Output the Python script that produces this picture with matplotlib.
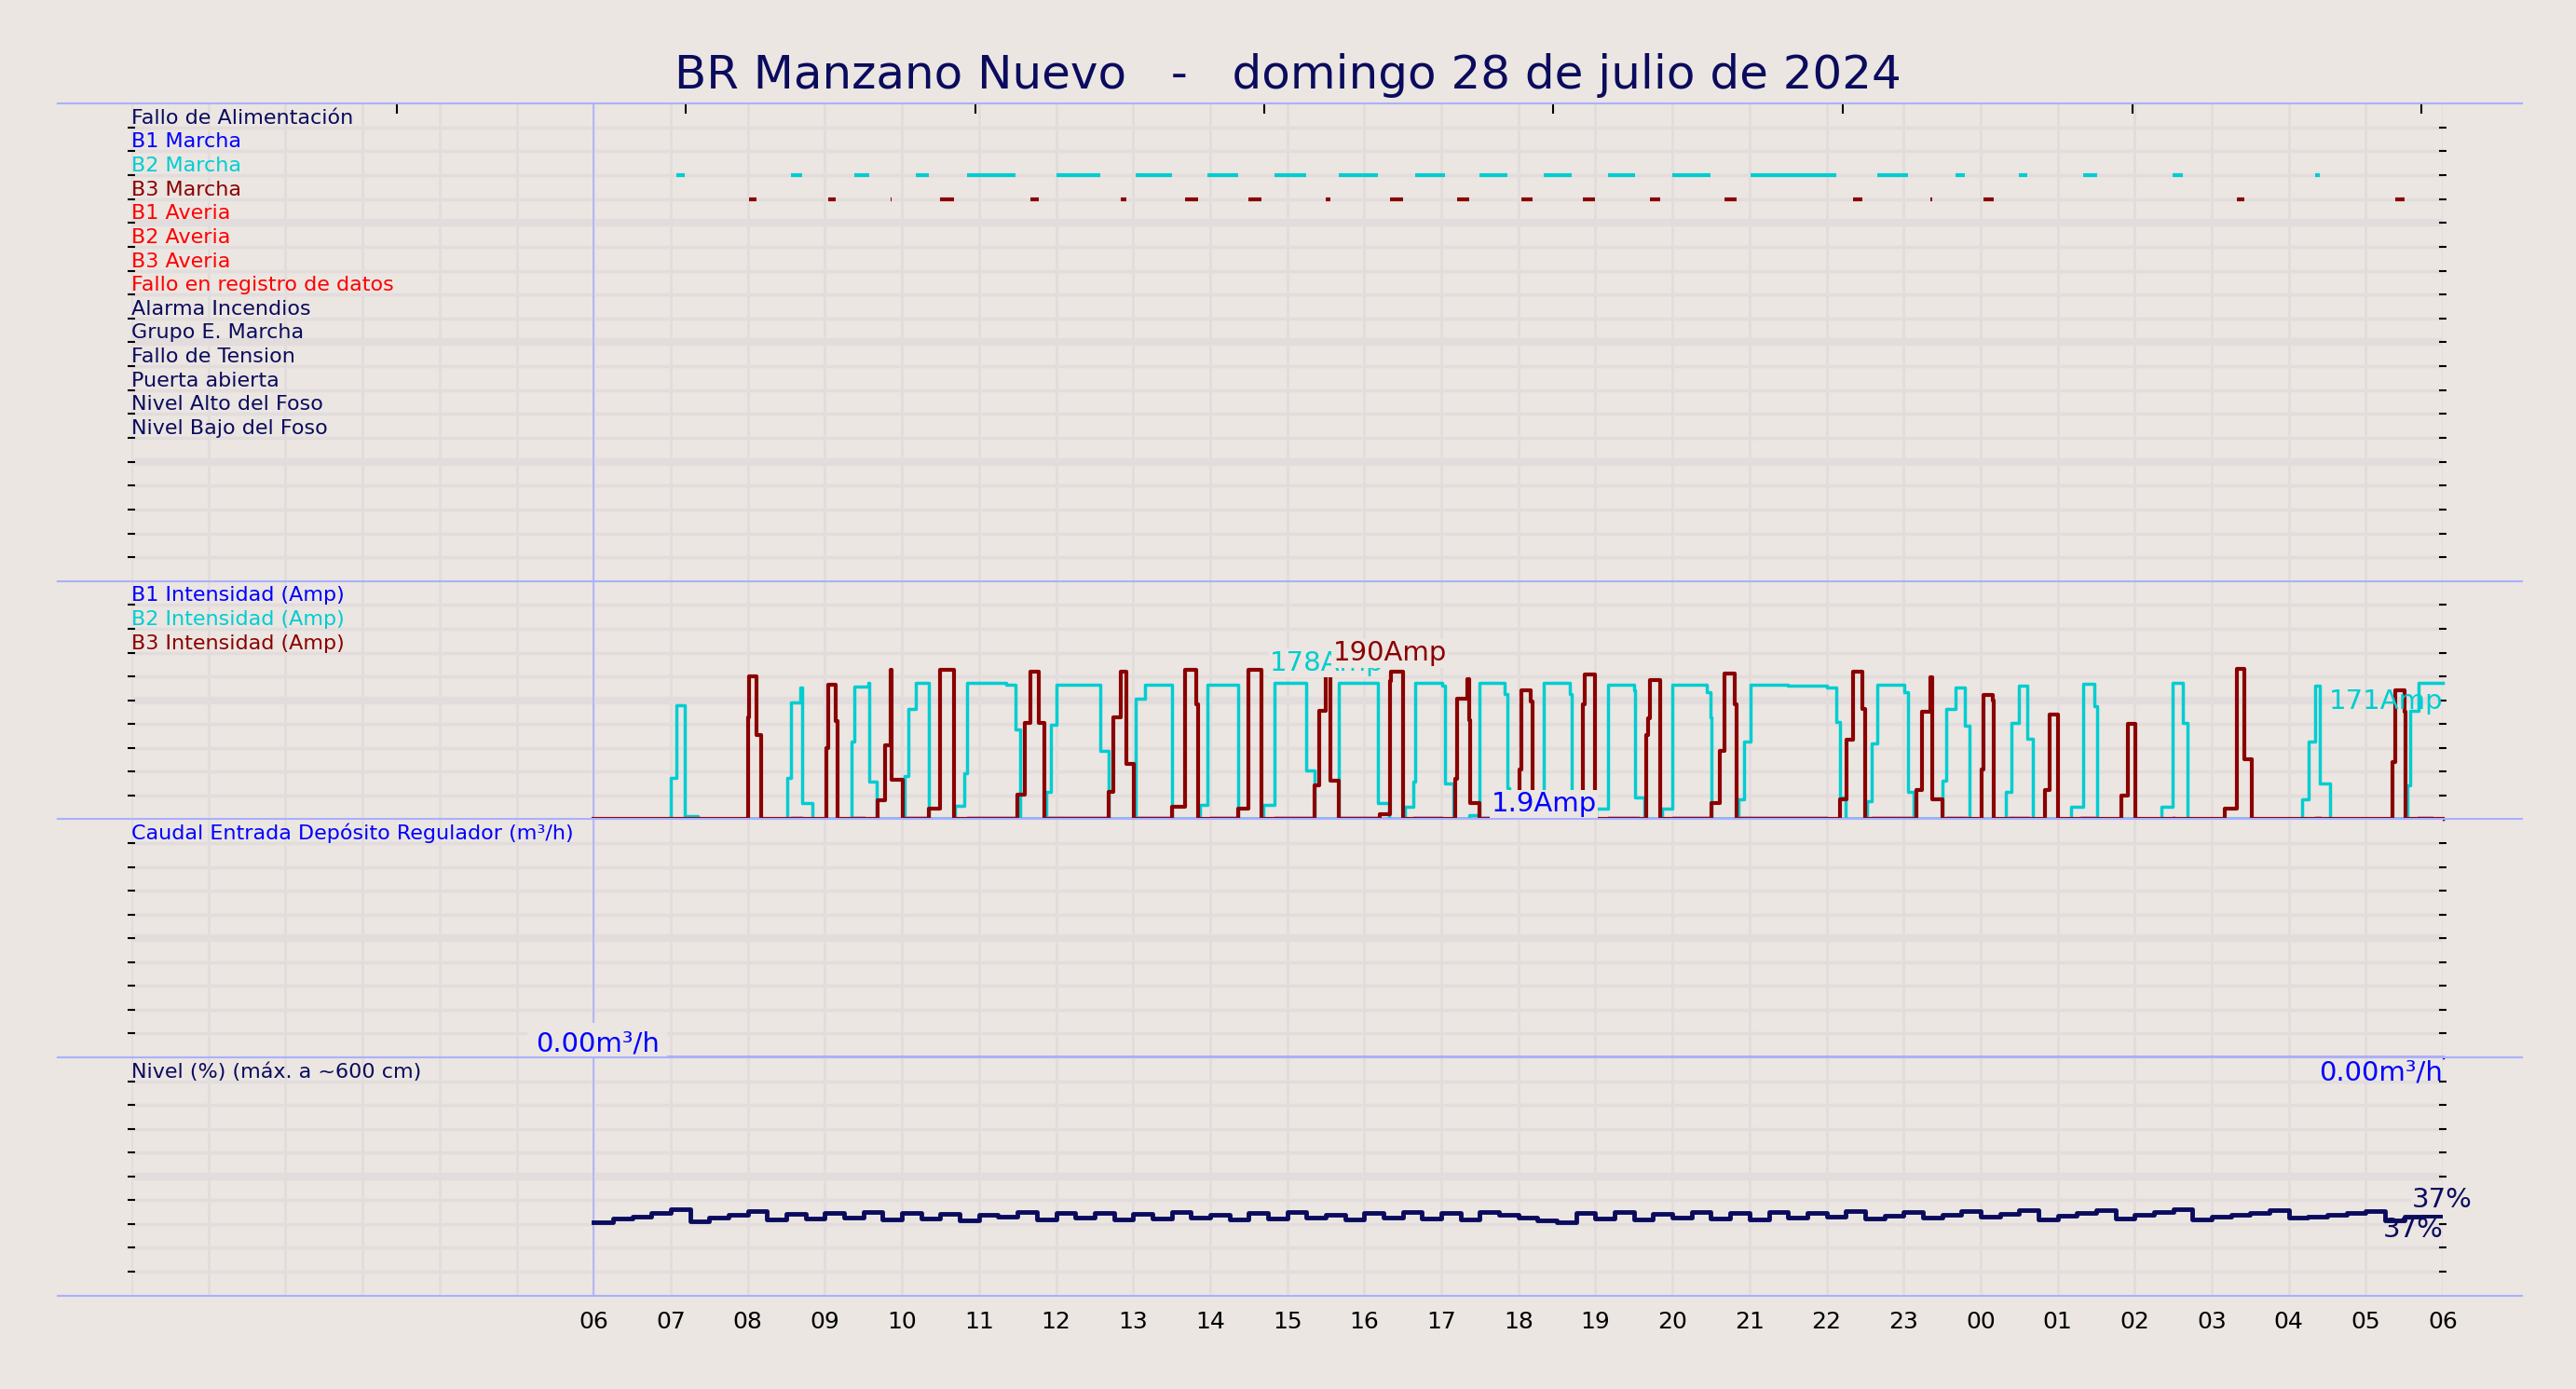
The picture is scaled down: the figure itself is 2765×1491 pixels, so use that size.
import matplotlib
matplotlib.use("Agg")
import matplotlib.pyplot as plt
from matplotlib.lines import Line2D
import numpy as np

BG = '#ebe6e1'
GRID = '#e2dcdc'
NAVY = '#0b0b5e'
CYAN = '#00cdd1'
DRED = '#8b0000'
BLUE = '#0000ff'
SEP = '#aab0ff'

title = 'BR Manzano Nuevo   -   domingo 28 de julio de 2024'

signal_labels = ['Fallo de Alimentación', 'B1 Marcha', 'B2 Marcha', 'B3 Marcha', 'B1 Averia',
                 'B2 Averia', 'B3 Averia', 'Fallo en registro de datos', 'Alarma Incendios',
                 'Grupo E. Marcha', 'Fallo de Tension', 'Puerta abierta', 'Nivel Alto del Foso',
                 'Nivel Bajo del Foso']
signal_colors = [NAVY, BLUE, CYAN, DRED, 'red', 'red', 'red', 'red', NAVY, NAVY, NAVY, NAVY, NAVY, NAVY]

hour_labels = ['06', '07', '08', '09', '10', '11', '12', '13', '14', '15', '16', '17', '18',
               '19', '20', '21', '22', '23', '00', '01', '02', '03', '04', '05', '06']

# B2 intensity (Amp), step series (hours since 06:00, value)
b2_t = [0, 1.00, 1.07, 1.18, 1.35, 2.51, 2.56, 2.68, 2.70, 2.84, 3.34, 3.38, 3.56, 3.58, 3.67,
        4.04, 4.08, 4.18, 4.35, 4.69, 4.81, 4.85, 5.35, 5.47, 5.54, 5.87, 5.93, 6.00, 6.58, 6.68,
        7.03, 7.16, 7.50, 7.87, 7.97, 8.36, 8.69, 8.83, 9.25, 9.35, 9.67, 10.18, 10.32,
        10.53, 10.64, 10.66, 11.01, 11.05, 11.16, 11.36, 11.50, 11.82, 11.86, 11.88,
        12.33, 12.67, 12.69, 13.01, 13.17, 13.50, 13.52, 13.64, 13.86, 14.00, 14.44, 14.49, 14.51,
        14.86, 14.93, 15.02, 15.50, 16.01, 16.13, 16.18, 16.25, 16.52, 16.59, 16.66, 17.01, 17.06, 17.13,
        17.50, 17.55, 17.67, 17.80, 17.85, 18.33, 18.40, 18.50, 18.61, 18.68, 19.17, 19.33, 19.48, 19.51,
        20.35, 20.49, 20.63, 20.68, 22.17, 22.26, 22.34, 22.40, 22.53, 23.54, 23.58, 23.68, 24.0]
b2_v = [0, 52, 144, 4, 0, 52, 147, 166, 20, 0, 98, 167, 172, 48, 0,
        55, 139, 172, 0, 17, 58, 172, 170, 113, 0, 35, 119, 170, 86, 0,
        152, 170, 0, 18, 170, 0, 18, 172, 62, 0, 172, 21, 0,
        16, 47, 172, 168, 45, 0, 5, 172, 158, 39, 0,
        172, 158, 0, 14, 170, 162, 27, 0, 14, 170, 160, 129, 0,
        25, 98, 170, 168, 166, 123, 27, 0, 23, 96, 170, 160, 35, 0,
        49, 139, 166, 118, 0, 34, 121, 168, 101, 0, 16, 171, 143, 0,
        16, 172, 122, 0, 25, 98, 168, 45, 0, 43, 137, 172, 172]

# B3 intensity (Amp)
b3_t = [0, 2.00, 2.02, 2.11, 2.17, 3.02, 3.04, 3.14, 3.17, 3.69, 3.78, 3.85, 3.87, 4.01,
        4.35, 4.50, 4.67, 5.50, 5.60, 5.67, 5.78, 5.85, 6.68, 6.74, 6.84, 6.91, 7.01,
        7.51, 7.67, 7.82, 7.84, 8.36, 8.50, 8.67, 9.35, 9.41, 9.50, 9.53, 9.56, 9.67,
        10.20, 10.33, 10.35, 10.50, 11.18, 11.21, 11.34, 11.36, 11.37, 11.50,
        12.01, 12.04, 12.16, 12.18, 12.84, 12.86, 12.99, 13.66, 13.69, 13.71, 13.84,
        14.51, 14.62, 14.67, 14.81, 14.83, 16.18, 16.26, 16.34, 16.47, 16.50,
        17.17, 17.24, 17.35, 17.37, 17.50, 18.01, 18.04, 18.16, 18.17, 18.84, 18.90, 19.01,
        19.83, 19.91, 20.01, 21.17, 21.33, 21.42, 21.52, 23.35, 23.38, 23.50, 23.52, 24.0]
b3_v = [0, 129, 180, 106, 0, 90, 170, 124, 0, 24, 93, 188, 50, 0,
        14, 188, 0, 31, 121, 186, 121, 0, 35, 129, 186, 70, 0,
        16, 188, 145, 0, 14, 188, 0, 43, 137, 188, 190, 49, 0,
        6, 174, 186, 0, 51, 152, 177, 125, 20, 0,
        63, 162, 149, 0, 145, 182, 0, 106, 127, 176, 0,
        21, 86, 184, 145, 0, 25, 100, 186, 139, 0,
        37, 135, 179, 25, 0, 63, 157, 150, 0, 37, 132, 0,
        30, 120, 0, 14, 190, 76, 0, 72, 162, 135, 0, 0]

# B1 intensity: short periods at ~1.9 Amp
b1_start = [2.56, 3.34, 4.04, 4.85, 5.87, 7.03, 8.00, 8.83, 9.67, 10.64, 11.50, 13.17, 14.00,
            14.86, 16.59, 17.55, 18.36, 19.30, 20.49, 22.34, 23.67]
b1_end = [2.71, 3.51, 4.35, 5.50, 6.66, 7.50, 8.36, 9.33, 10.18, 11.01, 11.68, 13.56, 14.49,
          16.01, 17.15, 17.82, 18.63, 19.49, 20.52, 22.41, 23.86]
b1_level = 1.9

# Nivel (%) every 15 minutes
level = [34.0, 35.4, 36.6, 38.2, 39.8, 34.2, 35.8, 37.4, 39.0, 35.0, 37.8, 35.4, 38.2, 35.8, 38.6, 35.0,
         38.2, 35.4, 37.8, 34.6, 37.4, 36.2, 38.6, 35.0, 38.2, 35.8, 38.2, 35.0, 37.8, 35.4, 38.6, 35.8,
         37.4, 35.0, 38.2, 35.4, 38.6, 35.8, 37.4, 35.0, 38.2, 35.8, 38.6, 35.4, 38.2, 35.0, 38.6, 37.4,
         35.8, 34.6, 33.8, 38.2, 35.4, 38.6, 35.0, 37.8, 35.8, 38.6, 35.4, 38.2, 35.0, 38.6, 35.8, 38.2,
         36.6, 39.0, 35.4, 37.0, 38.6, 35.8, 37.4, 39.0, 36.2, 37.8, 39.4, 35.0, 37.0, 38.2, 39.4, 35.4,
         37.4, 38.6, 39.8, 35.0, 36.2, 37.4, 38.2, 39.4, 35.8, 36.6, 37.4, 38.2, 39.0, 34.6, 36.2, 37.0, 37.0]
caudal_t = [0, 24]
caudal_v = [0.0, 0.0]

top_ticks = [-2.56, 1.19, 4.95, 8.70, 12.45, 16.21, 19.97, 23.72]

fig = plt.figure(figsize=(27.65, 14.91), dpi=100, facecolor=BG)
left, right = 80 / 1568, 1487 / 1568
bounds = [(63, 354), (354, 499), (499, 644), (644, 789)]
axes = []
for top, bot in bounds:
    ax = fig.add_axes([left, 1 - bot / 846, right - left, (bot - top) / 846])
    ax.set_facecolor(BG)
    for s in ax.spines.values():
        s.set_visible(False)
    ax.set_xlim(-6, 24)
    for h in range(-6, 25):
        ax.axvline(h, color=GRID, lw=2, zorder=0)
    ax.axvline(0, color=SEP, lw=1.2, zorder=0.5)
    ax.set_xticks([])
    axes.append(ax)


def rows(ax, n, ymax):
    ax.set_ylim(0, ymax)
    step = ymax / n
    for k in range(1, n):
        ax.axhline(k * step, color=GRID, lw=6 if k == n // 2 or (n == 20 and k in (5, 10, 15)) else 2.5, zorder=0)
    ax.set_yticks([k * step for k in range(1, n)])
    ax.set_yticklabels([])
    ax.tick_params(axis='y', left=True, right=True, direction='inout', length=6, width=1.5, color='black')


ax1, ax2, ax3, ax4 = axes

# top: digital signals
rows(ax1, 20, 20)
ax1.invert_yaxis()
for i, (lab, c) in enumerate(zip(signal_labels, signal_colors)):
    ax1.text(-6, i + 1, lab, color=c, fontsize=16, va='bottom', ha='left')


def runs(t, v, thr):
    out = []
    start = None
    for a, b in zip(zip(t, v), zip(t[1:], v[1:])):
        if a[1] >= thr and start is None:
            start = a[0]
        if a[1] >= thr and b[1] < thr:
            out.append((start, b[0]))
            start = None
    return out


for s, e in runs(b2_t, b2_v, 140):
    ax1.hlines(3, s, e, color=CYAN, lw=3)
for s, e in runs(b3_t, b3_v, 140):
    ax1.hlines(4, s, e, color=DRED, lw=3)
sec = ax1.secondary_xaxis('top')
sec.set_xticks(top_ticks)
sec.set_xticklabels([])
sec.tick_params(direction='in', length=8, width=1.5, color='black')
for s in sec.spines.values():
    s.set_visible(False)

# intensities
rows(ax2, 10, 300)
for j, (lab, c) in enumerate(zip(['B1 Intensidad (Amp)', 'B2 Intensidad (Amp)', 'B3 Intensidad (Amp)'],
                                 [BLUE, CYAN, DRED])):
    ax2.text(-6, 300 - (j + 1) * 30, lab, color=c, fontsize=16, va='bottom')
b1_t = [0]
b1_v = [0]
for s, e in zip(b1_start, b1_end):
    b1_t += [s, e]
    b1_v += [b1_level, 0]
b1_t.append(24)
b1_v.append(0)
ax2.plot(b1_t, b1_v, drawstyle='steps-post', color=BLUE, lw=2.5, clip_on=False, zorder=3)
ax2.plot(b2_t, b2_v, drawstyle='steps-post', color=CYAN, lw=2.5, clip_on=False, zorder=4)
ax2.plot(b3_t, b3_v, drawstyle='steps-post', color=DRED, lw=3, clip_on=False, zorder=5)
box = dict(facecolor=BG, edgecolor='none', pad=1)
ax2.text(9.52, 197, '178Amp', color=CYAN, fontsize=21, ha='center', va='center', bbox=box, zorder=6)
ax2.text(10.33, 209, '190Amp', color=DRED, fontsize=21, ha='center', va='center', bbox=box, zorder=7)
ax2.text(12.33, 19, '1.9Amp', color=BLUE, fontsize=21, ha='center', va='center', bbox=box, zorder=6)
ax2.text(24, 149, '171Amp', color=CYAN, fontsize=21, ha='right', va='center', zorder=6)
ax2.text(24, -6, '0.00Amp', color=BLUE, fontsize=21, ha='right', va='top', zorder=6, clip_on=False)
ax2.text(24, -6, '0.00Amp', color=DRED, fontsize=21, ha='right', va='top', zorder=6, clip_on=False)

# caudal
rows(ax3, 10, 10)
ax3.text(-6, 9, 'Caudal Entrada Depósito Regulador (m³/h)', color=BLUE, fontsize=16, va='bottom')
ax3.plot(caudal_t, caudal_v, color=BLUE, lw=2.5, clip_on=False, zorder=5)
ax3.text(0.85, 0.55, '0.00m³/h', color=BLUE, fontsize=21, ha='right', va='center',
         bbox=dict(facecolor=BG, edgecolor='none', pad=6), zorder=8, clip_on=False)

# nivel
rows(ax4, 10, 110)
ax4.text(-6, 99, 'Nivel (%) (máx. a ~600 cm)', color=NAVY, fontsize=16, va='bottom')
lt = np.linspace(0, 24, len(level))
ax4.plot(lt, level, drawstyle='steps-post', color=NAVY, lw=3.5, zorder=5)
ax4.text(24, 109, '0.00m³/h', color=BLUE, fontsize=21, ha='right', va='top', zorder=6)
ax4.text(23.6, 44, '37%', color=NAVY, fontsize=21, ha='left', va='center', clip_on=False,
         bbox=dict(facecolor=BG, edgecolor='none', pad=1), zorder=6)
ax4.text(24, 30.5, '37%', color=NAVY, fontsize=21, ha='right', va='center', zorder=6)
ax4.set_xticks(range(0, 25))
ax4.set_xticklabels(hour_labels, fontsize=18)
ax4.tick_params(axis='x', length=0, pad=12)

# separator lines
for y in [63, 354, 499, 644, 789]:
    fig.add_artist(Line2D([35 / 1568, 1535 / 1568], [1 - y / 846] * 2, color=SEP, lw=1.5, zorder=1))

fig.text(0.5, 1 - 46 / 846, title, color=NAVY, fontsize=36, ha='center', va='center')

fig.savefig('out.png', dpi=100, facecolor=BG)
